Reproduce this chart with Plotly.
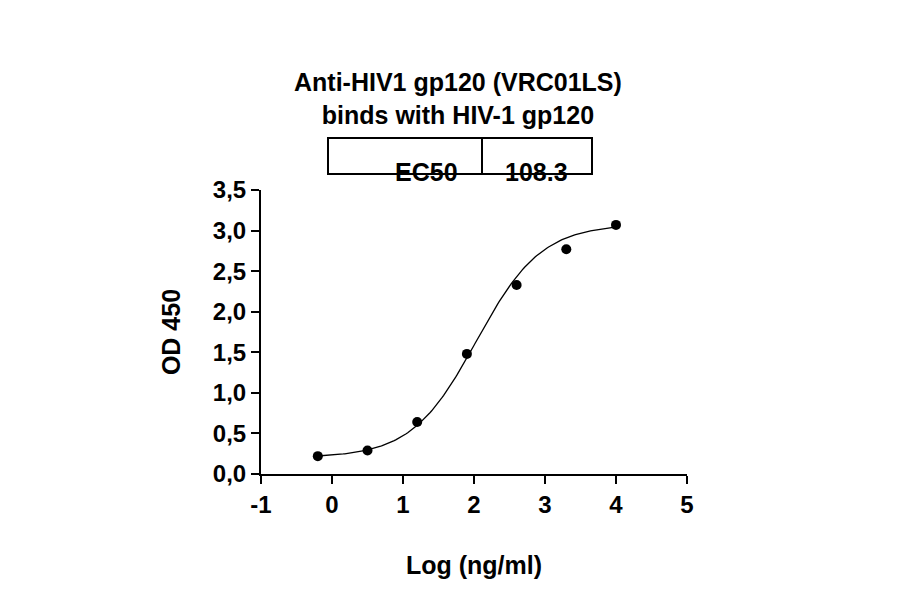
import numpy as np
import plotly.graph_objects as go

log_conc = [-0.2, 0.5, 1.2, 1.9, 2.6, 3.3, 4.0]
od450 = [0.22, 0.29, 0.64, 1.48, 2.33, 2.77, 3.07]
x_ticks = [-1, 0, 1, 2, 3, 4, 5]
y_ticks = [0, 0.5, 1, 1.5, 2, 2.5, 3, 3.5]

# 4PL fit parameters
bottom, top, logec50, hill = 0.2, 3.08, np.log10(108.3), 0.95
xfit = np.linspace(-0.2, 4.0, 200)
yfit = bottom + (top - bottom) / (1 + 10 ** ((logec50 - xfit) * hill))

F = "Liberation Sans, Arial, sans-serif"
big = dict(family=F, size=25, color="black")
fig = go.Figure()
fig.add_trace(go.Scatter(x=xfit, y=yfit, mode="lines",
                         line=dict(color="black", width=1.3), hoverinfo="skip"))
fig.add_trace(go.Scatter(x=log_conc, y=od450, mode="markers",
                         marker=dict(color="black", size=10)))

axis = dict(showgrid=False, zeroline=False, showline=True, linecolor="black",
            linewidth=2, ticks="outside", ticklen=8, tickwidth=2, tickcolor="black",
            automargin=False, tickfont=dict(family=F, size=24, color="black", weight="bold"))
fig.update_layout(
    width=900, height=594, showlegend=False,
    plot_bgcolor="white", paper_bgcolor="white",
    margin=dict(l=253, r=221, t=182, b=128),
    xaxis=dict(axis, range=[-1, 5], tickvals=x_ticks, ticktext=[str(v) for v in x_ticks],
               title=dict(text="<b>Log (ng/ml)</b>", font=big, standoff=40)),
    yaxis=dict(axis, range=[0, 3.5], tickvals=y_ticks,
               ticktext=[f"{v:.1f}".replace(".", ",") for v in y_ticks],
               title=dict(text="<b>OD 450</b>", font=big, standoff=25)),
)

def px(xp):
    return (xp - 253) / 426

def py(yp):
    return (466 - yp) / 284

fig.add_annotation(text="<b>Anti-HIV1 gp120 (VRC01LS)<br>binds with HIV-1 gp120</b>",
                   xref="paper", yref="paper", x=px(450), y=py(58),
                   showarrow=False, font=big)
fig.add_shape(type="rect", xref="paper", yref="paper", x0=px(320), x1=px(584),
              y0=py(166), y1=py(130), line=dict(color="black", width=2))
fig.add_shape(type="line", xref="paper", yref="paper", x0=px(474), x1=px(474),
              y0=py(166), y1=py(130), line=dict(color="black", width=2))
fig.add_annotation(text="<b>EC50</b>", xref="paper", yref="paper", x=px(418), y=py(148),
                   showarrow=False, font=big)
fig.add_annotation(text="<b>108.3</b>", xref="paper", yref="paper", x=px(528), y=py(148),
                   showarrow=False, font=big)

fig.write_html("out.html")
